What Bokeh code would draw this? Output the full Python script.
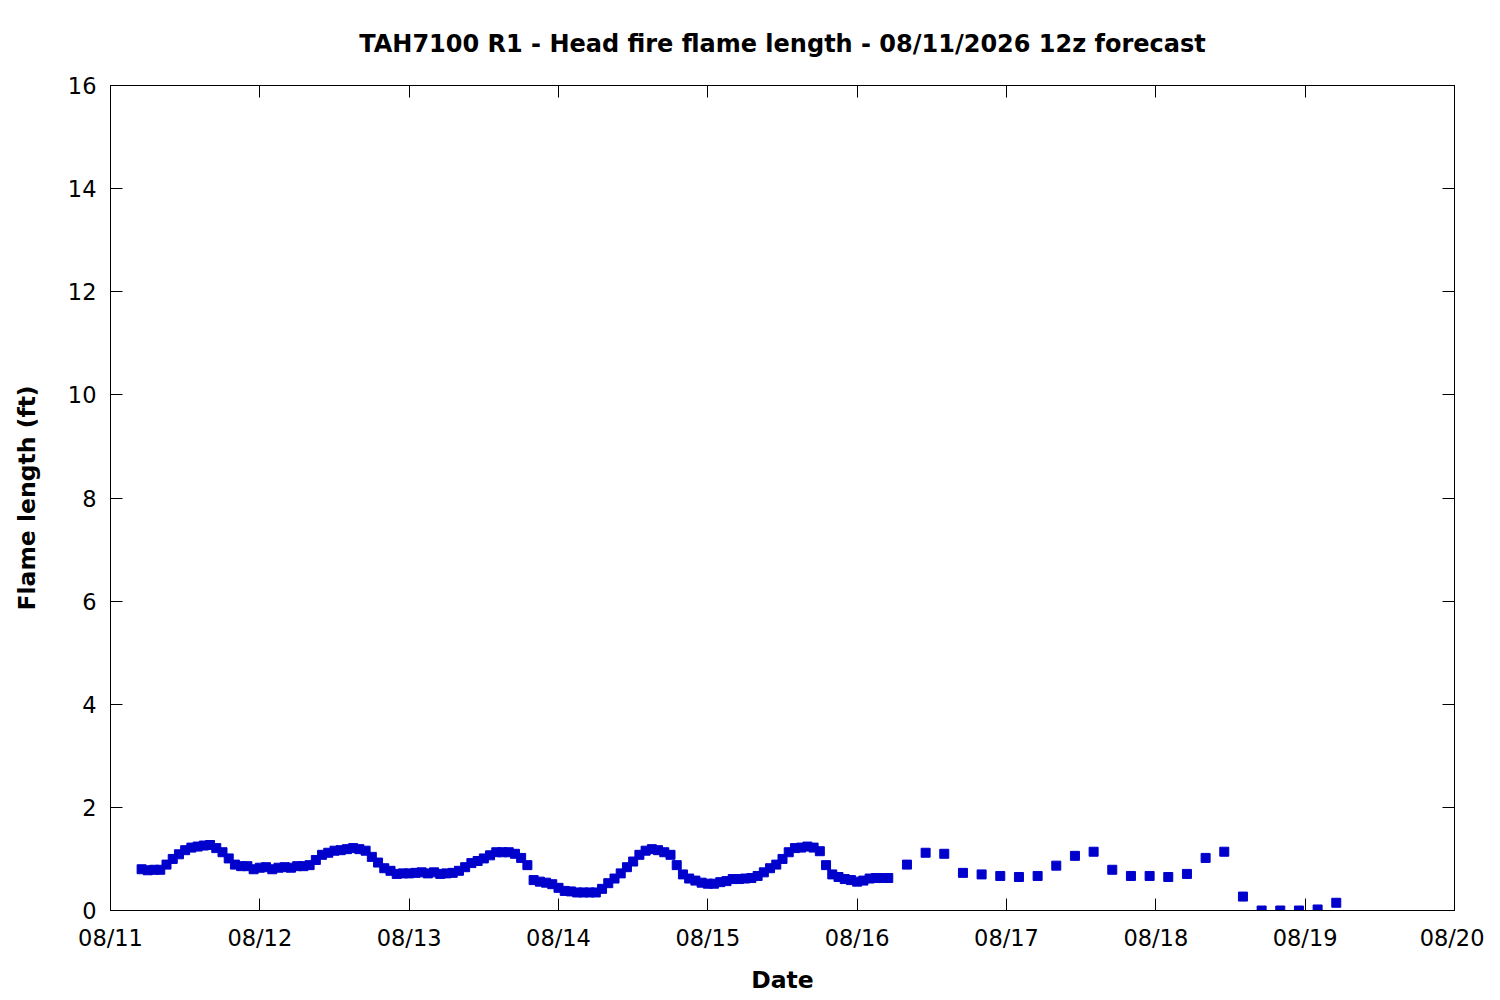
import pandas as pd
from bokeh.plotting import figure
from bokeh.models import (ColumnDataSource, FixedTicker, DatetimeTickFormatter,
                          LinearAxis, DatetimeAxis, Range1d, CustomJSTickFormatter)
from bokeh.embed import file_html
from bokeh.resources import INLINE

# ---- data -------------------------------------------------------------
title_text = "TAH7100 R1 - Head fire flame length - 08/11/2026 12z forecast"
x_label = "Date"
y_label = "Flame length (ft)"

# hourly values starting 2026-08-11 05:00
hourly_start = "2026-08-11 05:00"
hourly_flame = [
    0.80, 0.78, 0.79, 0.79, 0.89, 1.00, 1.09, 1.17, 1.22, 1.24,
    1.26, 1.27, 1.21, 1.13, 1.01, 0.89, 0.86, 0.86, 0.80, 0.83,
    0.84, 0.80, 0.83, 0.84, 0.83, 0.86, 0.86, 0.88, 0.98, 1.08,
    1.12, 1.16, 1.17, 1.19, 1.21, 1.19, 1.16, 1.04, 0.93, 0.82,
    0.77, 0.71, 0.72, 0.72, 0.73, 0.74, 0.72, 0.74, 0.71, 0.72,
    0.73, 0.77, 0.84, 0.92, 0.96, 1.01, 1.07, 1.13, 1.13, 1.13,
    1.10, 1.02, 0.88, 0.59, 0.56, 0.54, 0.51, 0.44, 0.38, 0.37,
    0.35, 0.35, 0.35, 0.35, 0.42, 0.53, 0.62, 0.72, 0.84, 0.95,
    1.08, 1.16, 1.19, 1.17, 1.13, 1.08, 0.88, 0.70, 0.62, 0.58,
    0.54, 0.52, 0.52, 0.55, 0.57, 0.61, 0.61, 0.62, 0.63, 0.67,
    0.74, 0.82, 0.89, 1.00, 1.13, 1.21, 1.22, 1.24, 1.22, 1.15,
    0.88, 0.70, 0.65, 0.61, 0.59, 0.56, 0.58, 0.62, 0.63, 0.63,
    0.63,
]

# 3-hourly values starting 2026-08-16 08:00
three_hourly_start = "2026-08-16 08:00"
three_hourly_flame = [
    0.89, 1.12, 1.10, 0.73, 0.70, 0.67, 0.65, 0.67, 0.87, 1.06,
    1.14, 0.79, 0.67, 0.67, 0.65, 0.71, 1.02, 1.14, 0.27, 0.00,
    0.00, 0.00, 0.02, 0.15,
]

date_ticks = ["2026-08-11", "2026-08-12", "2026-08-13", "2026-08-14", "2026-08-15",
              "2026-08-16", "2026-08-17", "2026-08-18", "2026-08-19", "2026-08-20"]
y_ticks = [0, 2, 4, 6, 8, 10, 12, 14, 16]

# ---- build ------------------------------------------------------------
times = list(pd.date_range(hourly_start, periods=len(hourly_flame), freq="h")) + \
        list(pd.date_range(three_hourly_start, periods=len(three_hourly_flame), freq="3h"))
values = hourly_flame + three_hourly_flame
src = ColumnDataSource(dict(t=times, v=values))

tick_ms = [pd.Timestamp(d).value // 10**6 for d in date_ticks]

FONT = "DejaVu Sans"
W, H = 1484, 997
p = figure(width=W, height=H, output_backend="svg", toolbar_location=None,
           x_axis_type="datetime",
           x_range=Range1d(pd.Timestamp(date_ticks[0]), pd.Timestamp(date_ticks[-1])),
           y_range=Range1d(0, 16),
           min_border_left=110, min_border_right=W - 1454,
           min_border_top=85, min_border_bottom=H - 910,
           background_fill_color="white", border_fill_color="white")

p.title.text = title_text
p.title.align = "center"
p.title.text_font = FONT
p.title.text_font_size = "24px"
p.title.text_font_style = "bold"
p.title.text_color = "black"
p.title.standoff = 55

p.grid.visible = False
p.outline_line_color = "black"
p.outline_line_width = 1

p.scatter("t", "v", source=src, marker="square", size=9,
          fill_color="#0000cc", line_color="#0000cc")

xfmt = DatetimeTickFormatter(days="%m/%d", months="%m/%d", hours="%m/%d")
blank = CustomJSTickFormatter(code="return '';")

def style(ax, labels=True):
    ax.major_tick_in = 12
    ax.major_tick_out = 0
    ax.minor_tick_in = 0
    ax.minor_tick_out = 0
    ax.axis_line_color = "black"
    ax.major_tick_line_color = "black"
    ax.major_label_text_font = FONT
    ax.major_label_text_font_size = "22.5px"
    ax.major_label_text_color = "black"
    ax.axis_label_text_font = FONT
    ax.axis_label_text_font_size = "23.5px"
    ax.axis_label_text_font_style = "bold"
    ax.axis_label_text_color = "black"
    if not labels:
        ax.formatter = blank
        ax.major_label_standoff = 0

xa = p.xaxis[0]
xa.ticker = FixedTicker(ticks=tick_ms)
xa.formatter = xfmt
xa.axis_label = x_label
style(xa)
xa.major_label_standoff = 14
xa.axis_label_standoff = 12

ya = p.yaxis[0]
ya.ticker = FixedTicker(ticks=y_ticks)
ya.axis_label = y_label
style(ya)
ya.major_label_standoff = 14
ya.axis_label_standoff = 24

top = DatetimeAxis(ticker=FixedTicker(ticks=tick_ms))
style(top, labels=False)
p.add_layout(top, "above")

right = LinearAxis(ticker=FixedTicker(ticks=y_ticks))
style(right, labels=False)
p.add_layout(right, "right")

open("out.html", "w").write(file_html(p, INLINE))
